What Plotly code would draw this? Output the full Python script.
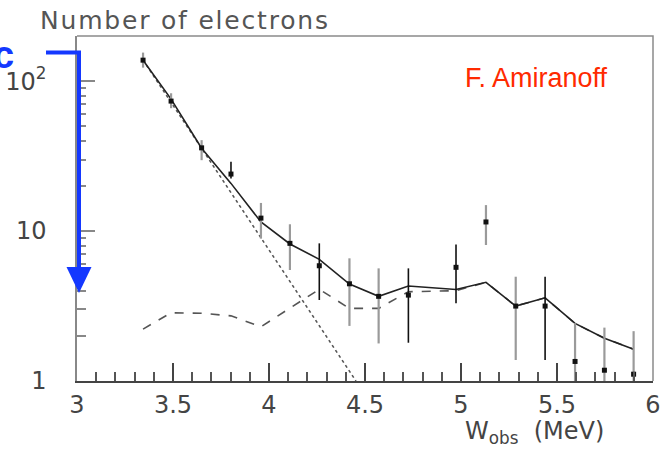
import plotly.graph_objects as go

# ---- measured spectrum (bin centres in MeV, counts) ----
w_bins = [3.344, 3.490, 3.649, 3.802, 3.958, 4.109, 4.262, 4.419, 4.571,
          4.726, 4.974, 5.130, 5.285, 5.438, 5.594, 5.747, 5.899]
counts = [138, 73.6, 35.9, 24.0, 12.2, 8.28, 5.87, 4.45, 3.67,
          3.74, 5.73, 11.5, 3.16, 3.16, 1.35, 1.18, 1.11]
err_top = [155, 83, 40.4, 29.0, 15.4, 11.1, 8.28, 6.58, 5.64,
           5.64, 8.15, 14.9, 4.96, 4.96, 2.43, 2.27, 2.15]
err_bottom = [123, 66, 29.7, 22.4, 8.9, 5.5, 3.47, 2.33, 1.78,
              1.80, 3.30, 8.07, 1.38, 1.38, 1.0, 1.0, 1.0]
# bars drawn in solid black; the rest are lighter grey
dark_bars = [3, 6, 9, 10, 13]

# ---- model curves ----
total_fit = [138, 75.9, 35.7, 20.8, 11.5, 8.2, 6.48, 4.43, 3.67,
             4.30, 4.08, 4.55, 3.16, 3.59, 2.42, 1.93, 1.63]
second_comp = [2.22, 2.85, 2.83, 2.72, 2.30, 3.07, 4.09, 3.05, 3.05,
               3.94, 4.00, 4.55, 3.16, 3.59, 2.42, 1.93, 1.63]
exp_x = [3.344, 4.453]
exp_y = [138, 1.0]

x_tickvals = [3, 3.5, 4, 4.5, 5, 5.5, 6]
x_ticktext = ["3", "3.5", "4", "4.5", "5", "5.5", "6"]
y_tickvals = [1, 10, 100]
y_ticktext = ["1", "10", "10<sup>2</sup>"]

W, H = 671, 449
L, R, T, B = 77, 18, 36, 68
PW, PH = W - L - R, H - T - B


def px(xp):
    return (xp - L) / PW


def py(yp):
    return (H - B - yp) / PH


FONT = "DejaVu Sans"
TXT = "#444444"
BLUE = "#1438ff"


def spaced(s, gap):
    return f'<span style="letter-spacing:{gap}px">{s}</span>'


fig = go.Figure()

fig.add_trace(go.Scatter(x=exp_x, y=exp_y, mode="lines",
                         line=dict(color="#555555", width=1.6, dash="dot"),
                         hoverinfo="skip", showlegend=False))
fig.add_trace(go.Scatter(x=w_bins, y=second_comp, mode="lines",
                         line=dict(color="#555555", width=1.6, dash="dash"),
                         showlegend=False))
fig.add_trace(go.Scatter(x=w_bins, y=total_fit, mode="lines",
                         line=dict(color="#222222", width=1.6),
                         showlegend=False))


def bar_group(idx, color, thick):
    xs = [w_bins[i] for i in idx]
    ys = [counts[i] for i in idx]
    up = [err_top[i] - counts[i] for i in idx]
    dn = [counts[i] - err_bottom[i] for i in idx]
    fig.add_trace(go.Scatter(
        x=xs, y=ys, mode="markers",
        marker=dict(symbol="square", size=5, color="#111111"),
        error_y=dict(type="data", symmetric=False, array=up, arrayminus=dn,
                     color=color, thickness=thick, width=0),
        showlegend=False))


light = [i for i in range(len(w_bins)) if i not in dark_bars]
bar_group(light, "#9a9a9a", 2.2)
bar_group(dark_bars, "#111111", 1.6)

minor_x = [round(3 + 0.1 * k, 2) for k in range(31)]
minor_x = [v for v in minor_x if v not in x_tickvals]
minor_y = [2, 3, 4, 5, 6, 7, 8, 9, 20, 30, 40, 50, 60, 70, 80, 90, 200]

fig.update_layout(
    width=W, height=H,
    margin=dict(l=L, r=R, t=T, b=B),
    paper_bgcolor="white", plot_bgcolor="white",
    font=dict(family=FONT, color=TXT),
    xaxis=dict(range=[3, 6], tickmode="array", tickvals=x_tickvals,
               ticktext=x_ticktext, ticks="inside", ticklen=18, tickwidth=1.5,
               tickcolor="#444444", showgrid=False, zeroline=False,
               showline=True, linecolor="#444444", linewidth=1.5,
               tickfont=dict(size=24, family=FONT, color=TXT),
               ticklabelstandoff=1, automargin=False,
               minor=dict(tickmode="array", tickvals=minor_x, ticks="inside",
                          ticklen=9, tickwidth=1.5, tickcolor="#555555",
                          showgrid=False)),
    yaxis=dict(type="log", range=[0, 2.301], tickmode="array",
               tickvals=y_tickvals, ticktext=y_ticktext, ticks="inside",
               ticklen=18, tickwidth=1.5, tickcolor="#888888",
               showgrid=False, zeroline=False, showline=True,
               linecolor="#888888", linewidth=1.5,
               tickfont=dict(size=24, family=FONT, color=TXT),
               ticklabelstandoff=24, automargin=False,
               minor=dict(tickmode="array", tickvals=minor_y, ticks="inside",
                          ticklen=9, tickwidth=1.5, tickcolor="#888888",
                          showgrid=False)),
    shapes=[
        # top and right frame
        dict(type="path", xref="paper", yref="paper",
             path="M 0,1 L 1,1 L 1,0", line=dict(color="#8a8a8a", width=1.5)),
        # blue pointer down the count axis
        dict(type="path", xref="paper", yref="paper",
             path=f"M {px(46)},{py(52.5)} L {px(79)},{py(52.5)} L {px(79)},{py(270)}",
             line=dict(color=BLUE, width=4)),
        dict(type="path", xref="paper", yref="paper",
             path=f"M {px(66.5)},{py(267)} L {px(91.5)},{py(267)} L {px(79)},{py(293)} Z",
             fillcolor=BLUE, line=dict(color=BLUE, width=0)),
    ],
    annotations=[
        dict(text=spaced("Number of electrons", 1.8), xref="paper", yref="paper",
             x=px(38), y=py(37), xanchor="left", yanchor="bottom",
             showarrow=False, font=dict(family=FONT, size=25, color="#555555")),
        dict(text="W<sub>obs</sub>  (MeV)", xref="paper", yref="paper",
             x=px(606), y=py(450), xanchor="right", yanchor="bottom",
             showarrow=False, font=dict(family=FONT, size=24, color=TXT)),
        dict(text="F. Amiranoff", xref="paper", yref="paper",
             x=px(463), y=py(78), xanchor="left", yanchor="middle",
             showarrow=False,
             font=dict(family="Liberation Sans", size=27, color="#ff2a00")),
        dict(text="<b>c</b>", xref="paper", yref="paper",
             x=px(16), y=py(55), xanchor="right", yanchor="middle",
             showarrow=False,
             font=dict(family="Liberation Sans", size=38, color=BLUE)),
    ],
)

fig.write_html("out.html")
